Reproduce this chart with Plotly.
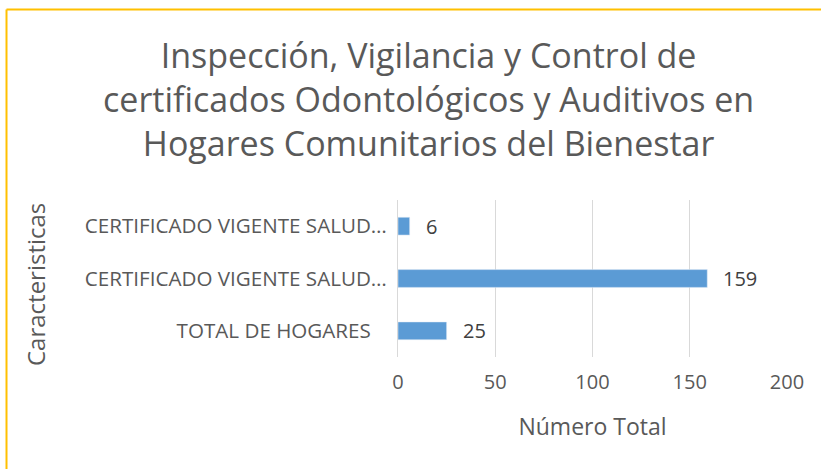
import plotly.graph_objects as go

# Chart data
categories = ["TOTAL DE HOGARES", "CERTIFICADO VIGENTE SALUD…", "CERTIFICADO VIGENTE SALUD… "]
tick_labels = ["TOTAL DE HOGARES\u00a0\u00a0\u00a0", "CERTIFICADO VIGENTE SALUD…", "CERTIFICADO VIGENTE SALUD…"]
values = [25, 159, 6]
x_ticks = [0, 50, 100, 150, 200]

title_text = ("Inspección, Vigilancia y Control de<br>"
              "certificados Odontológicos y Auditivos en<br>"
              "Hogares Comunitarios del Bienestar")

W, H = 821, 469
ML, MR, MT, MB = 398, 34, 200, 112
FONT = "Open Sans"
GREY = "#595959"

pw = W - ML - MR
ph = H - MT - MB
def px_to_x(px):
    return (px - ML) / pw
def py_to_y(py):
    return (H - MB - py) / ph

fig = go.Figure(
    go.Bar(
        y=categories,
        x=values,
        orientation="h",
        width=0.34,
        marker=dict(color="#5B9BD5"),
        hoverinfo="x+y",
    )
)

# Value labels next to each bar
for cat, v in zip(categories, values):
    fig.add_annotation(
        x=v, y=cat, xref="x", yref="y",
        text=str(v), showarrow=False,
        xanchor="left", yanchor="middle", xshift=14,
        font=dict(family=FONT, size=20, color="#404040"),
    )

fig.update_layout(
    width=W,
    height=H,
    margin=dict(l=ML, r=MR, t=MT, b=MB),
    paper_bgcolor="white",
    plot_bgcolor="white",
    showlegend=False,
    font=dict(family=FONT, color=GREY),
    xaxis=dict(
        range=[0, 200],
        tickvals=x_ticks,
        showgrid=True,
        gridcolor="#D9D9D9",
        gridwidth=1,
        zeroline=False,
        showline=False,
        ticks="",
        ticklabelstandoff=11,
        tickfont=dict(family=FONT, size=20, color=GREY),
        title=dict(text="Número Total", font=dict(family=FONT, size=23, color=GREY), standoff=24),
    ),
    yaxis=dict(
        categoryorder="array",
        categoryarray=categories,
        tickvals=categories,
        ticktext=tick_labels,
        range=[-0.5, 2.5],
        showgrid=False,
        zeroline=False,
        showline=True,
        linecolor="#D9D9D9",
        linewidth=1,
        ticks="",
        ticklabelstandoff=6,
        tickfont=dict(family=FONT, size=20.6, color=GREY),
    ),
)

# Vertical axis title
fig.add_annotation(
    text="Caracteristicas", showarrow=False, textangle=-90,
    xref="paper", yref="paper",
    x=px_to_x(35), y=py_to_y(285),
    xanchor="center", yanchor="middle",
    font=dict(family=FONT, size=24, color=GREY),
)

# Chart title
fig.add_annotation(
    text=title_text, showarrow=False,
    xref="paper", yref="paper",
    x=px_to_x(428), y=py_to_y(99),
    xanchor="center", yanchor="middle",
    font=dict(family=FONT, size=34, color=GREY),
)

# Chart frame: top and left edges
fig.add_shape(type="line", xref="paper", yref="paper",
              x0=px_to_x(6.5), x1=px_to_x(W + 5), y0=py_to_y(9.5), y1=py_to_y(9.5),
              line=dict(color="#FFC000", width=2))
fig.add_shape(type="line", xref="paper", yref="paper",
              x0=px_to_x(6.5), x1=px_to_x(6.5), y0=py_to_y(9.5), y1=py_to_y(H + 5),
              line=dict(color="#FFC000", width=2))

fig.write_html("out.html")
